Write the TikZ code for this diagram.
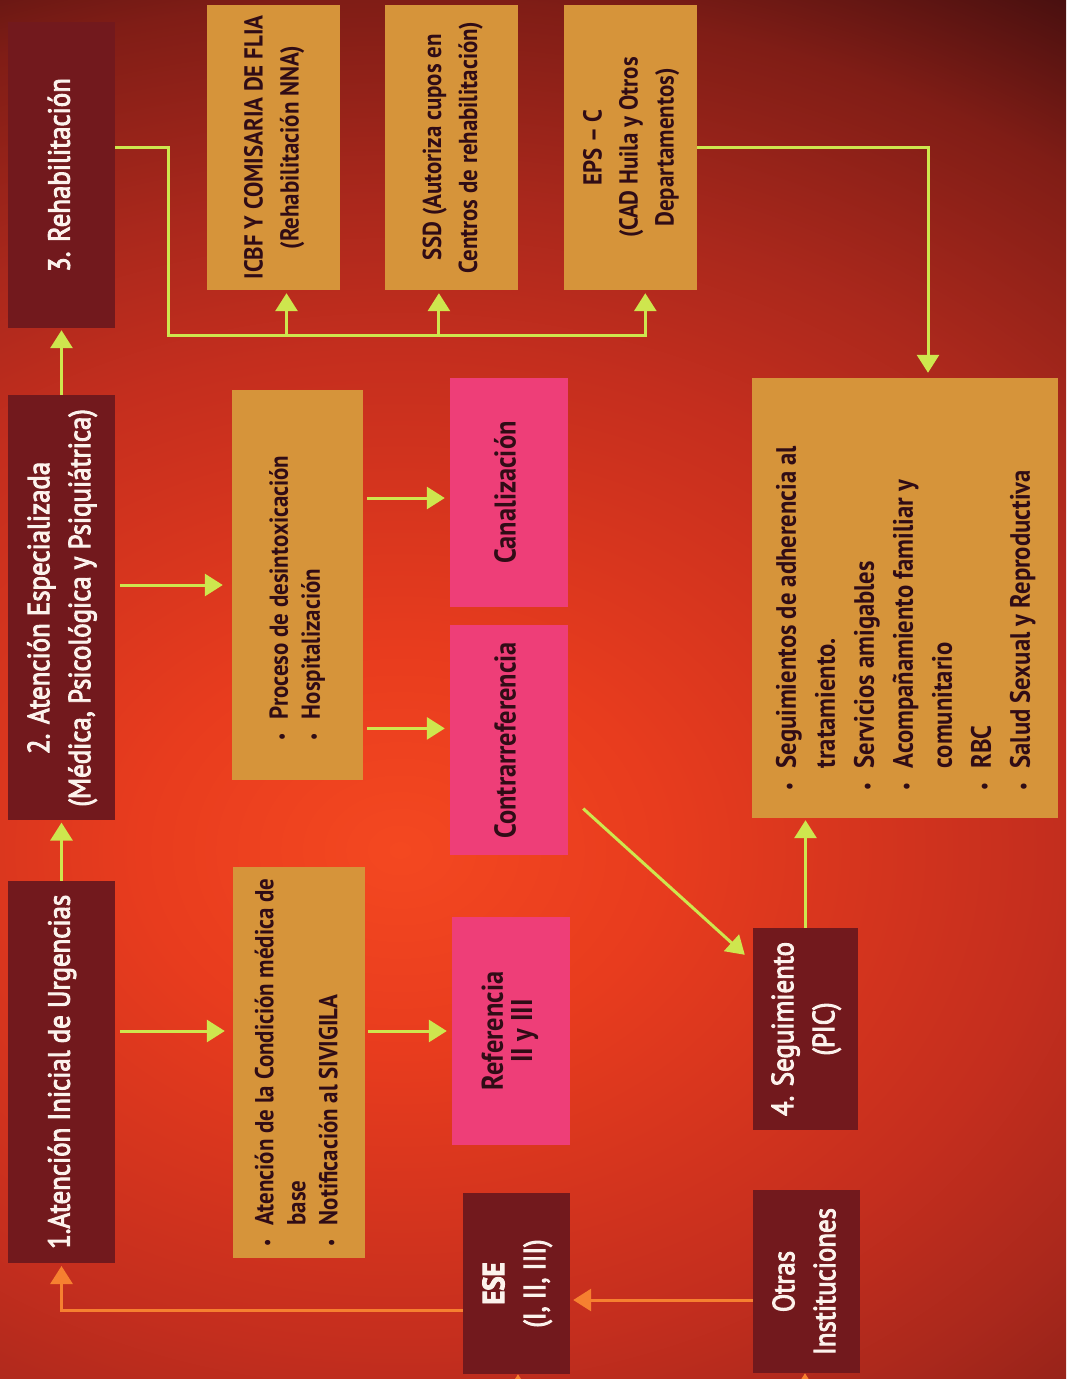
\documentclass[tikz,border=0pt]{standalone}
\usepackage{fontspec}
\setmainfont{PT Sans}[FakeStretch=0.88]
\newfontfamily\stagefont{PT Sans}[FakeStretch=0.88, FakeBold=3]
\usepackage{tikz}
\usetikzlibrary{positioning,calc,arrows.meta}
\usepackage{xcolor}
\definecolor{stagered}{RGB}{114,25,29}
\definecolor{ochrebox}{RGB}{214,148,58}
\definecolor{routepink}{RGB}{238,62,120}
\definecolor{limearrow}{RGB}{206,230,78}
\definecolor{returnorange}{RGB}{246,128,48}
\definecolor{inkdark}{RGB}{48,12,22}
\definecolor{paperwhite}{RGB}{252,242,236}
\definecolor{glowcore}{RGB}{244,72,32}
\definecolor{glowmid}{RGB}{232,60,30}
\definecolor{glowwarm}{RGB}{196,46,30}
\definecolor{glowedge}{RGB}{170,40,28}
\definecolor{glowdeep}{RGB}{128,29,22}
\definecolor{glowdark}{RGB}{70,15,15}
\pgfdeclareradialshading{bgglow}{\pgfpoint{0bp}{0bp}}{color(0bp)=(glowcore); color(5bp)=(glowmid); color(12.5bp)=(glowwarm); color(16.25bp)=(glowedge); color(21.25bp)=(glowdeep); color(25bp)=(glowdark); color(50bp)=(glowdark)}

\newcommand{\turnup}[1]{\rotatebox{90}{\begin{tabular}{@{}c@{}}#1\end{tabular}}}
\newcommand{\turnlist}[2][0pt]{\rotatebox{90}{\begin{tabular}{@{}l@{\hspace{14pt}}l@{\hspace{#1}}}#2\end{tabular}}}
\newcommand{\dotmark}{\scalebox{0.7}{\textbullet}}

\begin{document}
\begin{tikzpicture}[
    x=1pt, y=-1pt,
    stage/.style={rectangle, fill=stagered, text=paperwhite, inner sep=0pt,
                  font=\stagefont\fontsize{30.5}{41}\selectfont},
    detail/.style={rectangle, fill=ochrebox, text=inkdark, inner sep=0pt,
                   font=\fontsize{26}{32}\selectfont\bfseries},
    agency/.style={detail, minimum width=133pt, minimum height=285pt,
                   font=\fontsize{26}{36}\selectfont\bfseries},
    route/.style={rectangle, fill=routepink, text=inkdark, inner sep=0pt,
                  minimum width=118pt, font=\fontsize{30}{28}\selectfont\bfseries},
    arrow/.style={->, >={Triangle[width=22pt,length=18pt]}, line width=3pt, draw=limearrow},
    backarrow/.style={arrow, draw=returnorange}
]

\useasboundingbox (0,0) rectangle (1066,1379);
\clip (0,0) rectangle (1066,1379);
\fill[glowdark] (0,0) rectangle (1066,1379);
\shade[shading=bgglow] (400,850) ellipse (1300pt and 1000pt);

% stages
\node[stage, minimum width=107pt, minimum height=306pt] (rehab) at (61.5,175) {\turnup{3. Rehabilitación}};
\node[stage, minimum width=107pt, minimum height=425pt, below=67pt of rehab] (espec) {\turnup{2. Atención Especializada\\(Médica, Psicológica y Psiquiátrica)}};
\node[stage, minimum width=107pt, minimum height=382pt, below=60pt of espec] (urg) {\turnup{1.Atención Inicial de Urgencias}};

% rehabilitation agencies
\node[agency] (icbf) at (273.5,147.5) {\turnup{ICBF Y COMISARIA DE FLIA\\(Rehabilitación NNA)}};
\node[agency, right=45pt of icbf] (ssd) {\turnup{SSD (Autoriza cupos en\\Centros de rehabilitación)}};
\node[agency, right=45pt of ssd] (eps) {\turnup{EPS -- C\\(CAD Huila y Otros\\Departamentos)}};

% care details
\node[detail, minimum width=131pt, minimum height=390pt] (proceso) at (297.5,585) {\turnlist[26pt]{\dotmark & Proceso de desintoxicación\\ \dotmark & Hospitalización}};
\node[detail, minimum width=132pt, minimum height=391pt] (cond) at (299,1062.5) {\turnlist{\dotmark & Atención de la Condición médica de\\ & base\\ \dotmark & Notificación al SIVIGILA}};

\node[route, minimum height=229pt] (canal) at (509,492.5) {\turnup{Canalización}};
\node[route, minimum height=230pt, below=18pt of canal] (contra) {\turnup{Contrarreferencia}};
\node[route, minimum height=228pt] (refer) at (511,1031) {\turnup{Referencia\\II y III}};

% follow-up
\node[detail, minimum width=306pt, minimum height=440pt, font=\fontsize{28}{39}\selectfont\bfseries] (segs) at (905,598) {\turnlist[40pt]{\dotmark & Seguimientos de adherencia al\\ & tratamiento.\\ \dotmark & Servicios amigables\\ \dotmark & Acompañamiento familiar y\\ & comunitario\\ \dotmark & RBC\\ \dotmark & Salud Sexual y Reproductiva}};
\node[stage, minimum width=105pt, minimum height=202pt] (pic) at (805.5,1029) {\turnup{4. Seguimiento\\(PIC)}};

\node[stage, minimum width=107pt, minimum height=181pt] (ese) at (516.5,1283.5) {\turnup{\textbf{ESE}\\(I, II, III)}};
\node[stage, minimum width=107pt, minimum height=183pt] (otras) at (806.5,1281.5) {\turnup{Otras\\Instituciones}};

% main line
\draw[arrow, shorten >=2pt] (urg) -- (espec);
\draw[arrow, shorten >=2pt] (espec) -- (rehab);

% rehabilitation bus
\coordinate (busturn) at (168,335);
\draw[arrow, shorten >=3pt] (rehab.east |- icbf.east) -| (busturn) -| ([xshift=15pt]eps.south);
\draw[arrow, shorten >=3pt] ([xshift=13pt]icbf.south |- busturn) -- ([xshift=13pt]icbf.south);
\draw[arrow, shorten >=3pt] ([xshift=-13pt]ssd.south |- busturn) -- ([xshift=-13pt]ssd.south);
\draw[arrow, shorten >=5pt] (eps.east) -| ([xshift=23pt]segs.north);

% branches
\coordinate (canalin) at ($(canal.west)+(0,5.5)$);
\coordinate (contrain) at ($(contra.west)+(0,-12)$);
\draw[arrow, shorten <=5pt, shorten >=9pt] (espec.east |- proceso.west) -- (proceso.west);
\draw[arrow, shorten <=4pt, shorten >=5pt] (proceso.east |- canalin) -- (canalin);
\draw[arrow, shorten <=4pt, shorten >=5pt] (proceso.east |- contrain) -- (contrain);
\draw[arrow, shorten <=5pt, shorten >=8pt] (urg.east |- refer.west) -- (cond.west |- refer.west);
\draw[arrow, shorten <=3pt, shorten >=5pt] (cond.east |- refer.west) -- (refer.west);

\draw[arrow] ($(contra.south east)+(15,-47)$) -- ($(pic.north west)+(-8,27)$);
\draw[arrow, shorten >=2pt] (pic.north) -- (pic.north |- segs.south);

% returns
\coordinate (otrasout) at ($(otras.west)+(0,18.5)$);
\coordinate (eseout) at ($(ese.west)+(0,27)$);
\coordinate (esefeed) at (518,1420);
\coordinate (otrasfeed) at (805,1420);
\draw[backarrow, shorten >=3pt] (otrasout) -- (ese.east |- otrasout);
\draw[backarrow, shorten >=3pt] (eseout) -| (urg.south);
\draw[backarrow] (esefeed) -- (esefeed |- ese.south);
\draw[backarrow] (otrasfeed) -- (otrasfeed |- otras.south);

\end{tikzpicture}
\end{document}
